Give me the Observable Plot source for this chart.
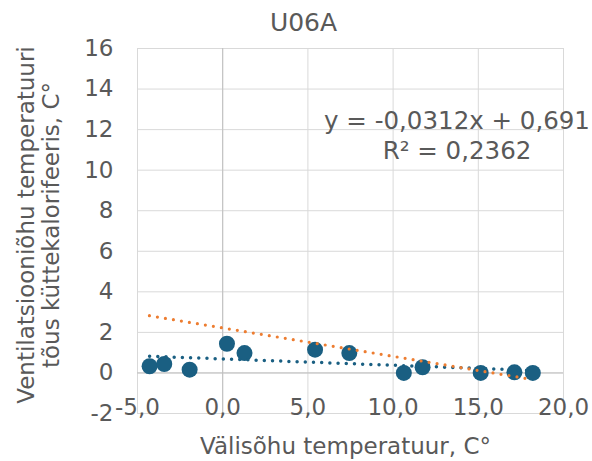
<!DOCTYPE html>
<html><head><meta charset="utf-8">
<script src="https://cdn.jsdelivr.net/npm/d3@7"></script>
<script src="https://cdn.jsdelivr.net/npm/@observablehq/plot@0.6"></script>
<style>body{margin:0;background:#fff}</style>
</head><body><div id="chart"></div>
<script>
const chartTitle = "U06A";
const xLabel = "Välisõhu temperatuur, C°";
const yLabelLines = ["Ventilatsiooniõhu temperatuuri", "tõus küttekalorifeeris, C°"];
const outdoorTemp = [-4.29, -3.43, -1.94, 0.25, 1.28, 5.42, 7.43, 10.63, 11.73, 15.14, 17.12, 18.2];
const tempRise =    [0.33, 0.44, 0.16, 1.44, 0.98, 1.15, 0.98, 0.0, 0.28, 0.0, 0.03, 0.0];
const xTicks = [-5, 0, 5, 10, 15, 20];
const yTicks = [-2, 0, 2, 4, 6, 8, 10, 12, 14, 16];
const trendSlope = -0.0312;
const trendIntercept = 0.691;
const trendLabel = "y = -0,0312x + 0,691\nR² = 0,2362";
const trendLabelPos = [13.75, 11.76];
const orangeSlope = -0.14;
const orangeIntercept = 2.22;
const orangeRange = [-4.3, 17.9];

const points = outdoorTemp.map((x, i) => ({x, y: tempRise[i]}));
const xr = d3.extent(outdoorTemp);
const blueTrend = xr.map(x => ({x, y: trendIntercept + trendSlope * x}));
const orangeTrend = orangeRange.map(x => ({x, y: orangeIntercept + orangeSlope * x}));

const blue = "#1a5f82", orange = "#ed7d31", grid = "#d9d9d9", txt = "#595959";

const chart = Plot.plot({
  width: 592, height: 461,
  marginLeft: 137, marginRight: 29, marginTop: 48, marginBottom: 48,
  style: {fontFamily: "DejaVu Sans", fontSize: "23px", color: txt, background: "white"},
  x: {domain: [-5, 20], ticks: xTicks},
  y: {domain: [-2, 16], ticks: yTicks},
  marks: [
    Plot.gridX(xTicks, {stroke: grid, strokeOpacity: 1}),
    Plot.gridY(yTicks, {stroke: grid, strokeOpacity: 1}),
    Plot.ruleX([0], {stroke: "#bfbfbf"}),
    Plot.ruleY([0], {stroke: "#bfbfbf"}),
    Plot.axisY(yTicks, {tickSize: 0, tickPadding: 24, tickFormat: d => String(d), label: null, fill: txt}),
    Plot.axisX(xTicks, {tickSize: 0, tickPadding: 0, dy: -15, tickFormat: d => d.toFixed(1).replace(".", ","), label: null, fill: txt}),
    Plot.dot(points, {x: "x", y: "y", r: 8, fill: blue, stroke: "none"}),
    Plot.line(blueTrend, {x: "x", y: "y", stroke: blue, strokeWidth: 3.5, strokeDasharray: "0 8.2", strokeLinecap: "round"}),
    Plot.line(orangeTrend, {x: "x", y: "y", stroke: orange, strokeWidth: 3.2, strokeDasharray: "0 8.1", strokeLinecap: "round"}),
    Plot.text([trendLabel], {x: () => trendLabelPos[0], y: () => trendLabelPos[1], text: d => d, textAnchor: "middle", lineHeight: 1.22, fontSize: 24.5, fill: txt}),
    Plot.text([chartTitle], {text: d => d, frameAnchor: "top", dx: -47, dy: -26, fontSize: 25, fill: txt, lineAnchor: "middle"}),
    Plot.text([xLabel], {text: d => d, frameAnchor: "bottom", dx: -5, dy: 33, fill: txt, lineAnchor: "middle"}),
    Plot.text([yLabelLines[0]], {text: d => d, frameAnchor: "left", textAnchor: "middle", rotate: -90, dx: -111, dy: -6, fill: txt, lineAnchor: "middle"}),
    Plot.text([yLabelLines[1]], {text: d => d, frameAnchor: "left", textAnchor: "middle", rotate: -90, dx: -86, dy: -6, fill: txt, lineAnchor: "middle"})
  ]
});
document.getElementById("chart").appendChild(chart);
</script>
</body></html>
